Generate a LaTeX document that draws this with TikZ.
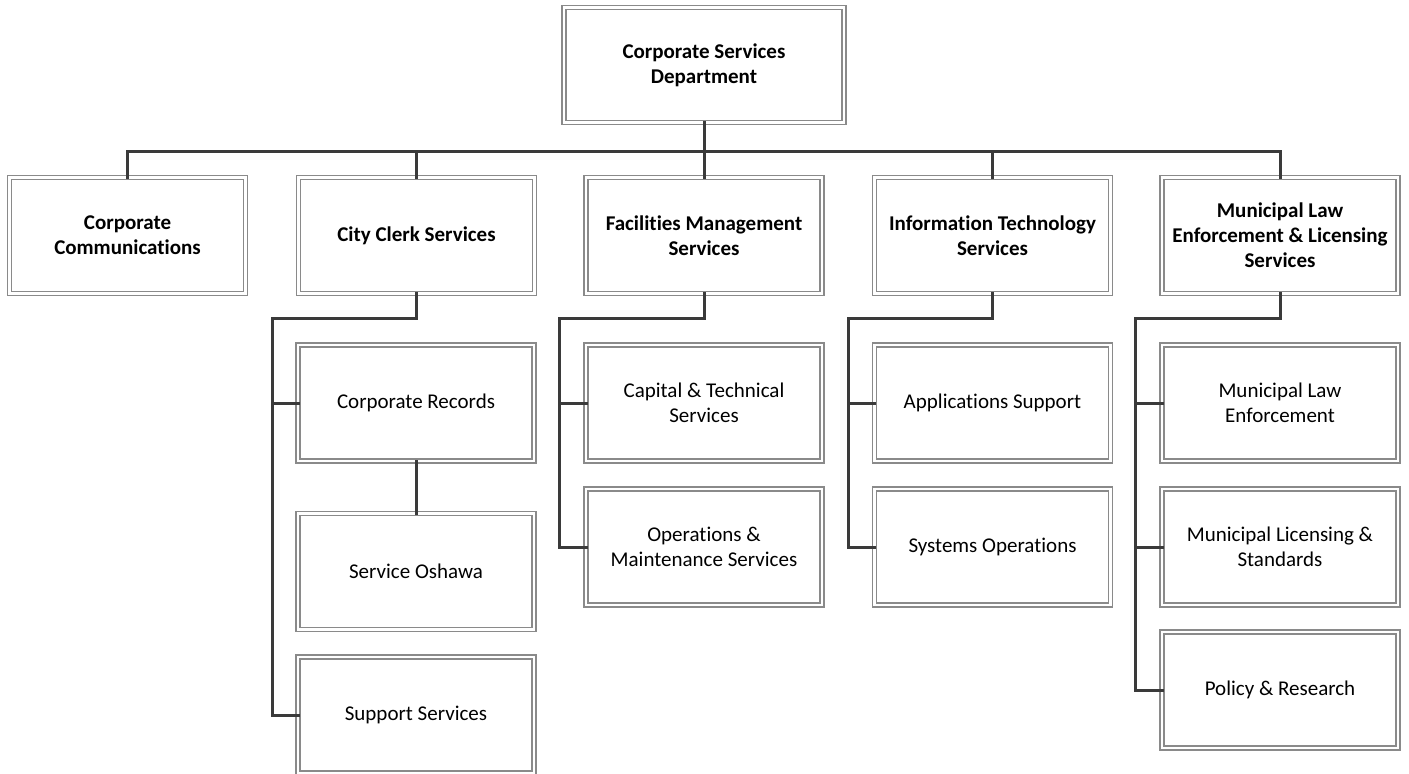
\documentclass[tikz,border=0pt]{standalone}
\usepackage{fontspec}
\setmainfont{Carlito}[Ligatures=NoCommon]
\usetikzlibrary{shadows}
\definecolor{boxgray}{HTML}{8A8A8A}
\definecolor{conngray}{HTML}{3A3A3A}
\tikzset{
  orgbox/.style={rectangle, draw=boxgray, line width=1.3pt, double=white, double distance=2.6pt,
    fill=white, minimum width=236pt, minimum height=116pt, inner sep=0pt, outer sep=0pt,
    align=center, font=\fontsize{21}{25}\selectfont,
    drop shadow={opacity=0.12, shadow xshift=2.5pt, shadow yshift=-2.5pt, fill=black}},
  headbox/.style={orgbox, font=\fontsize{21}{25}\selectfont\bfseries},
  conn/.style={draw=conngray, line width=3pt, line cap=rect, line join=miter}
}
\begin{document}
\begin{tikzpicture}[x=1pt,y=-1pt]
\useasboundingbox (0,0) rectangle (1409,774);
% top
\node[headbox, minimum width=280pt, minimum height=115pt] (top) at (704,65) {Corporate Services\\Department};
% level 1
\node[headbox] (cc) at (127.5,235.5) {Corporate\\Communications};
\node[headbox] (clerk) at (416.5,235.5) {City Clerk Services};
\node[headbox] (fac) at (704,235.5) {Facilities Management\\Services};
\node[headbox] (it) at (992.5,235.5) {Information Technology\\Services};
\node[headbox] (mle) at (1280,235.5) {Municipal Law\\Enforcement \& Licensing\\Services};
% clerk children
\node[orgbox] (rec) at (416,403) {Corporate Records};
\node[orgbox] (osh) at (416,571.5) {Service Oshawa};
\node[orgbox] (sup) at (416,715) {Support Services};
% facilities children
\node[orgbox] (cap) at (704,403) {Capital \& Technical\\Services};
\node[orgbox] (ops) at (704,547) {Operations \&\\Maintenance Services};
% IT children
\node[orgbox] (app) at (992.5,403) {Applications Support};
\node[orgbox] (sys) at (992.5,547) {Systems Operations};
% MLE children
\node[orgbox] (enf) at (1280,403) {Municipal Law\\Enforcement};
\node[orgbox] (lic) at (1280,547) {Municipal Licensing \&\\Standards};
\node[orgbox] (pol) at (1280,690) {Policy \& Research};
% bus coordinates
\coordinate (bus) at (0,151);
\coordinate (clerkbus) at (272,318);
\coordinate (facbus) at (559,318);
\coordinate (itbus) at (848,318);
\coordinate (mlebus) at (1135,318);
% level 1 connectors
\draw[conn] (top.south) -- (fac.north);
\draw[conn] (cc.north) -- (cc.north |- bus) -- (mle.north |- bus) -- (mle.north);
\draw[conn] (clerk.north |- bus) -- (clerk.north);
\draw[conn] (it.north |- bus) -- (it.north);
% clerk
\draw[conn] (clerk.south) -- (clerk.south |- clerkbus) -- (clerkbus) -- (clerkbus |- sup.west) -- (sup.west);
\draw[conn] (clerkbus |- rec.west) -- (rec.west);
\draw[conn] (rec.south) -- (osh.north);
% facilities
\draw[conn] (fac.south) -- (fac.south |- facbus) -- (facbus) -- (facbus |- ops.west) -- (ops.west);
\draw[conn] (facbus |- cap.west) -- (cap.west);
% IT
\draw[conn] (it.south) -- (it.south |- itbus) -- (itbus) -- (itbus |- sys.west) -- (sys.west);
\draw[conn] (itbus |- app.west) -- (app.west);
% MLE
\draw[conn] (mle.south) -- (mle.south |- mlebus) -- (mlebus) -- (mlebus |- pol.west) -- (pol.west);
\draw[conn] (mlebus |- enf.west) -- (enf.west);
\draw[conn] (mlebus |- lic.west) -- (lic.west);
\end{tikzpicture}
\end{document}
